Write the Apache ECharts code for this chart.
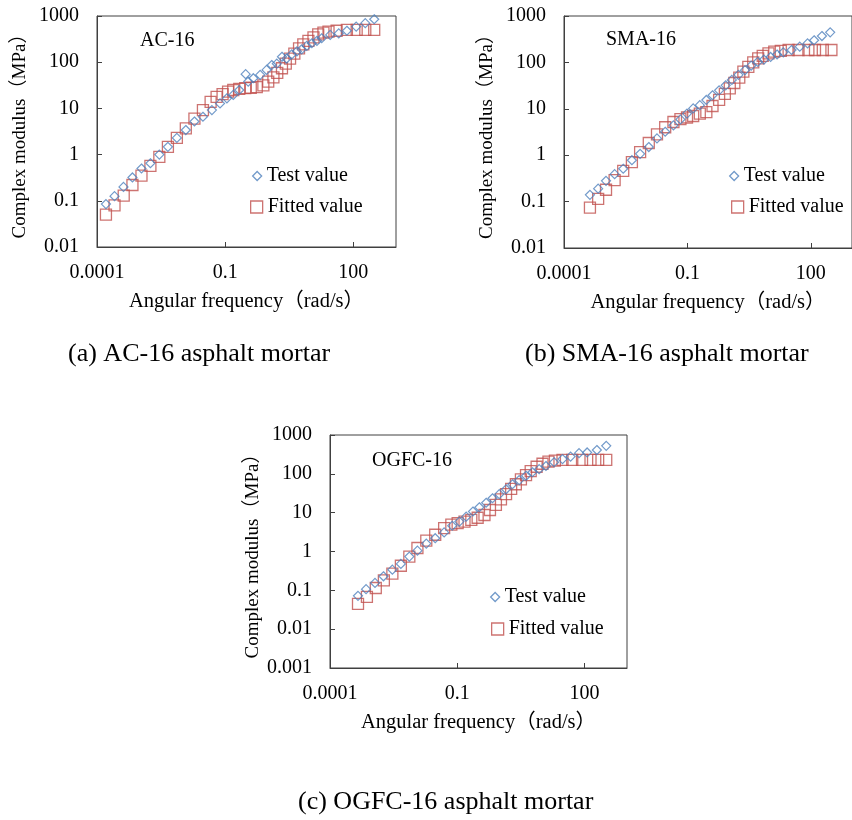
<!DOCTYPE html>
<html><head><meta charset="utf-8">
<script src="https://cdn.jsdelivr.net/npm/echarts@6/dist/echarts.min.js"></script>
<style>html,body{margin:0;padding:0;background:#fff}#c{width:852px;height:820px}</style>
</head><body><div id="c"></div>
<script>
// ---- AC-16 ----
const acTestFreq = [0.000162,0.000257,0.000417,0.000676,0.0011,0.00178,0.00288,0.00457,0.00741,0.012,0.0191,0.0302,0.049,0.0759,0.11,0.155,0.214,0.302,0.347,0.457,0.661,0.933,1.23,1.62,2.14,2.75,3.63,4.79,6.17,8.13,10.7,14.1,18.2,28.8,45.7,70.8,117,191,309];
const acTestVal  = [0.085,0.126,0.2,0.32,0.5,0.65,1.0,1.47,2.3,3.4,5.2,6.6,9.2,12.8,16.5,19.6,25,55,38,45,53,68,87,93,131,120,148,171,190,225,257,290,330,390,420,480,590,700,850];
const acFitFreq  = [0.000162,0.000257,0.000422,0.000676,0.0011,0.00178,0.00288,0.00457,0.00741,0.012,0.0191,0.0302,0.0457,0.0631,0.0871,0.117,0.155,0.214,0.295,0.398,0.55,0.785,1.02,1.35,1.66,2.14,2.63,3.31,4.17,5.37,6.76,8.91,11.7,15.1,20,26.3,40.7,70.8,120,191,309];
const acFitVal   = [0.05,0.08,0.13,0.22,0.35,0.57,0.89,1.47,2.3,3.7,6.0,9.2,13.8,17.8,20.4,23,25,26.5,27.5,28,29,31.5,38,47,59,74,93,120,154,200,244,290,345,400,435,458,480,500,500,500,500];
// ---- SMA-16 ----
const smaTestFreq = [0.000427,0.000676,0.00105,0.0017,0.00275,0.00447,0.00708,0.0115,0.0182,0.0288,0.0457,0.0676,0.0977,0.138,0.2,0.288,0.407,0.589,0.851,1.2,1.74,2.51,3.55,5.13,7.24,10.5,15.1,21.4,33.9,53.7,83.2,120,186,295];
const smaTestVal  = [0.14,0.19,0.28,0.39,0.51,0.78,1.07,1.5,2.3,3.2,4.4,5.9,7.9,10.2,12,15.5,19.6,25,32,42,54,68,85,103,115,131,148,165,185,218,257,300,370,445];
const smaFitFreq  = [0.000427,0.000676,0.00105,0.0017,0.00275,0.00447,0.00708,0.0115,0.0182,0.0288,0.0457,0.0676,0.0977,0.138,0.2,0.288,0.407,0.589,0.813,1.07,1.38,1.82,2.29,3.02,3.98,5.25,6.76,9.33,12.9,18.6,28.8,50.1,87.1,126,195,316];
const smaFitVal   = [0.074,0.115,0.18,0.29,0.46,0.71,1.17,1.83,2.8,4.0,5.2,6.0,6.5,7.0,7.9,8.5,11.5,15.5,21,27.5,36,47,63,80,100,122,138,156,170,178,185,185,185,185,185,185];
// ---- OGFC-16 ----
const ogTestFreq = [0.000457,0.000708,0.00115,0.00182,0.00295,0.00468,0.00741,0.0115,0.0186,0.0302,0.049,0.0759,0.112,0.162,0.234,0.331,0.479,0.676,0.977,1.41,2.0,2.88,4.17,5.89,8.51,12.3,19.1,30.2,46.8,74.1,115,195,324];
const ogTestVal  = [0.072,0.107,0.155,0.23,0.34,0.48,0.74,1.05,1.6,2.2,3.1,4.6,5.9,7.9,10.7,13.8,18,23.5,30,40,54,69,89,110,132,159,199,240,278,340,355,410,525];
const ogFitFreq  = [0.000457,0.000741,0.0012,0.00186,0.00295,0.00468,0.00741,0.0115,0.0186,0.0302,0.049,0.0724,0.102,0.148,0.214,0.302,0.437,0.589,0.813,1.07,1.41,1.86,2.4,3.16,4.17,5.37,7.41,10.2,14.1,20,30.2,51.3,87.1,138,209,324];
const ogFitVal   = [0.045,0.068,0.115,0.18,0.27,0.43,0.74,1.23,1.9,2.7,4.0,4.9,5.4,5.9,6.5,7.4,8.7,11.7,15.9,22,30,41,54,72,93,118,152,182,206,218,228,228,228,228,228,228];

const panelNames = ['AC-16','SMA-16','OGFC-16'];
const captions = ['(a) AC-16 asphalt mortar','(b) SMA-16 asphalt mortar','(c) OGFC-16 asphalt mortar'];
const xTitle = 'Angular frequency（rad/s）';
const yTitle = 'Complex modulus（MPa）';
const seriesNames = ['Test value','Fitted value'];
const yMins = [0.01, 0.01, 0.001];

const zip = (a,b) => a.map((v,i)=>[v,b[i]]);
const FONT = "'Liberation Serif','Times New Roman','Noto Sans CJK SC',serif";
const BLUE = '#4F81BD', RED = '#C0504D', AX = '#404040';
const fmt = v => String(Number(Number(v).toPrecision(6)));

const grids = [
  {left:97, top:16, width:299, height:231},
  {left:564, top:16, width:297, height:232},
  {left:330, top:435, width:297, height:233}
];
const data = [
  [zip(acTestFreq,acTestVal), zip(acFitFreq,acFitVal)],
  [zip(smaTestFreq,smaTestVal), zip(smaFitFreq,smaFitVal)],
  [zip(ogTestFreq,ogTestVal), zip(ogFitFreq,ogFitVal)]
];

const option = {
  animation:false,
  backgroundColor:'#fff',
  grid: grids.map(g=>Object.assign({show:true, borderColor:AX, borderWidth:1, containLabel:false}, g)),
  xAxis: grids.map((g,i)=>({
    type:'log', logBase:10, gridIndex:i, min:0.0001, max:1000, interval:3,
    name:xTitle, nameLocation:'middle', nameGap:44,
    nameTextStyle:{fontFamily:FONT, fontSize:20.5, color:'#000'},
    axisLine:{show:true, lineStyle:{color:AX, width:1}},
    axisTick:{show:true, inside:true, length:5, lineStyle:{color:AX}},
    minorTick:{show:false}, splitLine:{show:false},
    axisLabel:{fontFamily:FONT, fontSize:20, color:'#000', margin:16, showMaxLabel:false, formatter:fmt}
  })),
  yAxis: grids.map((g,i)=>({
    type:'log', logBase:10, gridIndex:i, min:yMins[i], max:1000,
    name:yTitle, nameLocation:'middle', nameGap:67,
    nameTextStyle:{fontFamily:FONT, fontSize:19, color:'#000'},
    axisLine:{show:true, lineStyle:{color:AX, width:1}},
    axisTick:{show:true, inside:true, length:5, lineStyle:{color:AX}},
    minorTick:{show:false}, splitLine:{show:false},
    axisLabel:{fontFamily:FONT, fontSize:20, color:'#000', margin:18, formatter:fmt}
  })),
  title: [
    {text:panelNames[0], left:140, top:31},
    {text:panelNames[1], left:606, top:30},
    {text:panelNames[2], left:372, top:451},
    {text:captions[0], left:68, top:341, fs:26},
    {text:captions[1], left:525, top:341, fs:26},
    {text:captions[2], left:298, top:789, fs:26}
  ].map(t=>({text:t.text, left:t.left, top:t.top, padding:0,
      textStyle:{fontFamily:FONT, fontSize:t.fs||20, fontWeight:'normal', color:'#000'}})),
  legend: [
    {x:252, y:166, n:0}, {x:250, y:197, n:1},
    {x:729, y:166, n:0}, {x:731, y:197, n:1},
    {x:490, y:587, n:0}, {x:491, y:619, n:1}
  ].map(l=>({
    left:l.x, top:l.y, padding:0, orient:'vertical',
    data:[{name:seriesNames[l.n], icon: l.n===0?'diamond':'rect',
           itemStyle:{color:'transparent', borderColor:l.n===0?BLUE:RED, borderWidth:1.3}}],
    itemWidth: l.n===0?9:12, itemHeight: l.n===0?9:12,
    textStyle:{fontFamily:FONT, fontSize:20, color:'#000'},
    selectedMode:false
  })),
  series: []
};
data.forEach((pair,i)=>{
  option.series.push({name:seriesNames[0], type:'scatter', xAxisIndex:i, yAxisIndex:i,
    symbol:'diamond', symbolSize:9, data:pair[0],
    itemStyle:{color:'transparent', borderColor:BLUE, borderWidth:1.2}, z:3});
  option.series.push({name:seriesNames[1], type:'scatter', xAxisIndex:i, yAxisIndex:i,
    symbol:'rect', symbolSize:11, data:pair[1],
    itemStyle:{color:'transparent', borderColor:RED, borderWidth:1.3}, z:2});
});
const chart = echarts.init(document.getElementById('c'), null, {renderer:'canvas'});
chart.setOption(option);
</script>
</body></html>
